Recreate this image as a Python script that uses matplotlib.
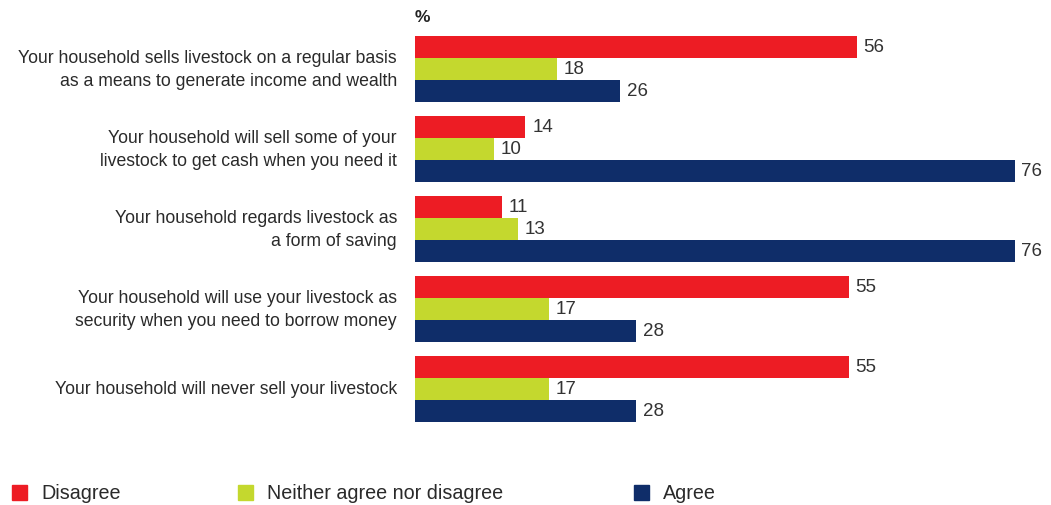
import matplotlib
matplotlib.use("Agg")
import matplotlib.pyplot as plt
import numpy as np

plt.rcParams['font.family'] = ['Liberation Sans', 'DejaVu Sans']

categories = [
    "Your household sells livestock on a regular basis\nas a means to generate income and wealth",
    "Your household will sell some of your\nlivestock to get cash when you need it",
    "Your household regards livestock as\na form of saving",
    "Your household will use your livestock as\nsecurity when you need to borrow money",
    "Your household will never sell your livestock",
]
series_names = ["Disagree", "Neither agree nor disagree", "Agree"]
disagree = [56, 14, 11, 55, 55]
neither = [18, 10, 13, 17, 17]
agree = [26, 76, 76, 28, 28]
colors = ["#ED1C24", "#C4D82E", "#0F2D69"]

fig = plt.figure(figsize=(10.51, 5.06), dpi=100)
ax = fig.add_axes([415/1051, 1-431/506, 625/1051, 400/506])

y = np.arange(len(categories))
h = 0.275
for k, (vals, col) in enumerate(zip([disagree, neither, agree], colors)):
    pos = y + (k - 1) * h
    ax.barh(pos, vals, height=h, color=col, edgecolor='none')
    for p, v in zip(pos, vals):
        ax.text(v + 0.85, p, str(v), va='center', ha='left', fontsize=13.5, color='#333333')

ax.set_xlim(0, 625/7.89)
ax.set_ylim(4 + 41/80, -39/80)
ax.axis('off')

for i, c in enumerate(categories):
    fig.text(397/1051, 1 - (70 + 80*i)/506, c, ha='right', va='center', fontsize=12.7,
             color='#2a2a2a', linespacing=1.45)

fig.text(415/1051, 1-17/506, "%", ha='left', va='center', fontsize=12.5, fontweight='bold', color='#222222')

leg_x = [12, 238, 634]
for lx, name, col in zip(leg_x, series_names, colors):
    fig.patches.append(plt.Rectangle((lx/1051, 1-501/506), 15/1051, 15/506, transform=fig.transFigure,
                                     color=col, figure=fig))
    fig.text((lx + 29)/1051, 1-494/506, name, ha='left', va='center', fontsize=14.2, color='#2a2a2a')

fig.savefig("out.png", dpi=100)
